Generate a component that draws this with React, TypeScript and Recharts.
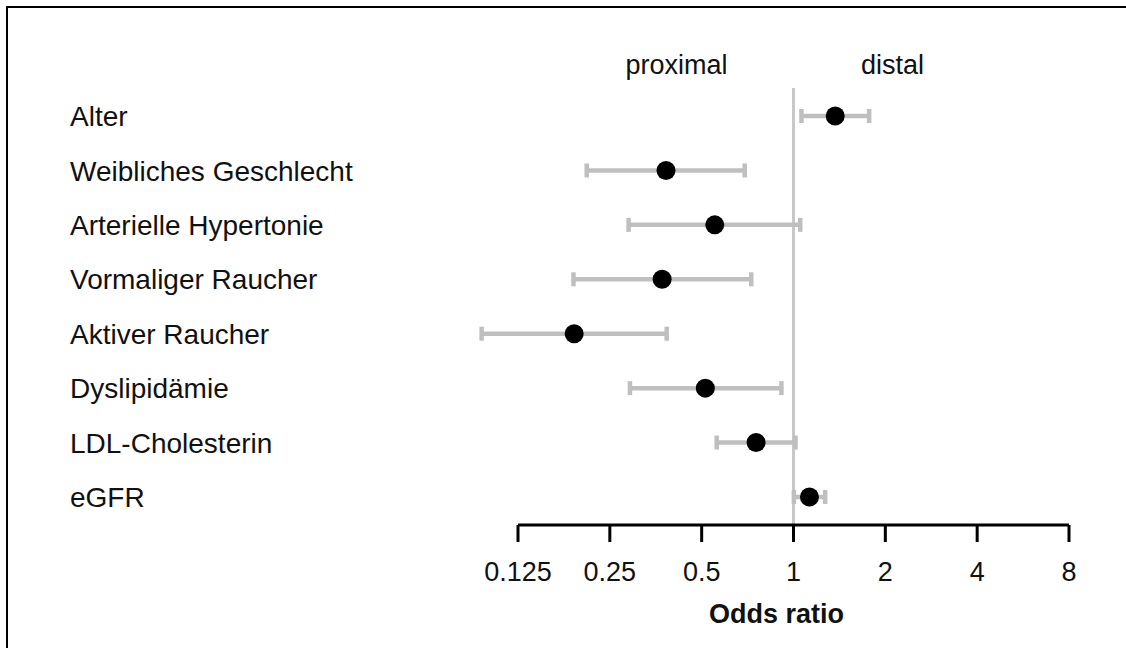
import React from 'react';
import { ScatterChart, Scatter, XAxis, YAxis, ErrorBar, ReferenceLine, Label } from 'recharts';

if (typeof document !== 'undefined' && document.body) {
  document.body.style.margin = '0';
}

const categories = [
  'Alter',
  'Weibliches Geschlecht',
  'Arterielle Hypertonie',
  'Vormaliger Raucher',
  'Aktiver Raucher',
  'Dyslipidämie',
  'LDL-Cholesterin',
  'eGFR',
];
const oddsRatio = [1.37, 0.382, 0.552, 0.371, 0.191, 0.514, 0.754, 1.128];
const ciLower = [1.062, 0.21, 0.288, 0.19, 0.095, 0.291, 0.56, 1.003];
const ciUpper = [1.77, 0.692, 1.052, 0.727, 0.384, 0.913, 1.015, 1.27];
const xTicks = [0.125, 0.25, 0.5, 1, 2, 4, 8];
const rowTicks = [1, 2, 3, 4, 5, 6, 7, 8];

const data = categories.map((name, i) => ({
  name,
  row: i + 1,
  or: oddsRatio[i],
  err: [oddsRatio[i] - ciLower[i], ciUpper[i] - oddsRatio[i]],
}));

const FONT = '"Liberation Sans", Arial, sans-serif';

const RowTick = (props: any) => {
  const { y, payload } = props;
  const label = categories[payload.value - 1] ?? '';
  return (
    <text x={62} y={y} dy="0.36em" textAnchor="start" fontFamily={FONT} fontSize={28} fill="#111">
      {label}
    </text>
  );
};

const Dot = (props: any) => <circle cx={props.cx} cy={props.cy} r={9.5} fill="#000" />;

export default function App() {
  return (
    <div
      style={{
        width: 1126,
        height: 648,
        paddingLeft: 6,
        paddingTop: 6,
        boxSizing: 'border-box',
        overflow: 'hidden',
        background: '#fff',
      }}
    >
      <div
        style={{
          width: 1120,
          height: 642,
          borderLeft: '2px solid #000',
          borderTop: '2px solid #000',
          boxSizing: 'border-box',
        }}
      >
        <ScatterChart
          width={1108}
          height={632}
          margin={{ top: 80, right: 47, bottom: 15, left: 0 }}
          style={{ fontFamily: FONT }}
        >
          <XAxis
            type="number"
            dataKey="or"
            scale="log"
            domain={[0.125, 8]}
            ticks={xTicks}
            allowDataOverflow
            height={100}
            axisLine={{ stroke: '#000', strokeWidth: 3 }}
            tickLine={{ stroke: '#000', strokeWidth: 3 }}
            tickSize={17}
            tickMargin={20}
            tick={{ fill: '#111', fontSize: 27, fontFamily: FONT }}
            tickFormatter={(v: number) => String(v)}
          >
            <Label
              value="Odds ratio"
              position="insideBottom"
              offset={2}
              dx={-17}
              style={{ fontWeight: 'bold', fontSize: 27, fill: '#111', fontFamily: FONT }}
            />
          </XAxis>
          <YAxis
            type="number"
            dataKey="row"
            domain={[0.485, 8.515]}
            reversed
            ticks={rowTicks}
            allowDataOverflow
            width={510}
            axisLine={false}
            tickLine={false}
            tick={<RowTick />}
          />
          <ReferenceLine x={1} stroke="#c8c8c8" strokeWidth={3} ifOverflow="extendDomain">
            <Label value="proximal" position="top" offset={14} dx={-117} style={{ fontSize: 27, fill: '#111', fontFamily: FONT }} />
            <Label value="distal" position="top" offset={14} dx={99} style={{ fontSize: 27, fill: '#111', fontFamily: FONT }} />
          </ReferenceLine>
          <Scatter data={data} shape={<Dot />} isAnimationActive={false}>
            <ErrorBar dataKey="err" direction="x" width={7} stroke="#bfbfbf" strokeWidth={4.5} isAnimationActive={false} />
          </Scatter>
        </ScatterChart>
      </div>
    </div>
  );
}
